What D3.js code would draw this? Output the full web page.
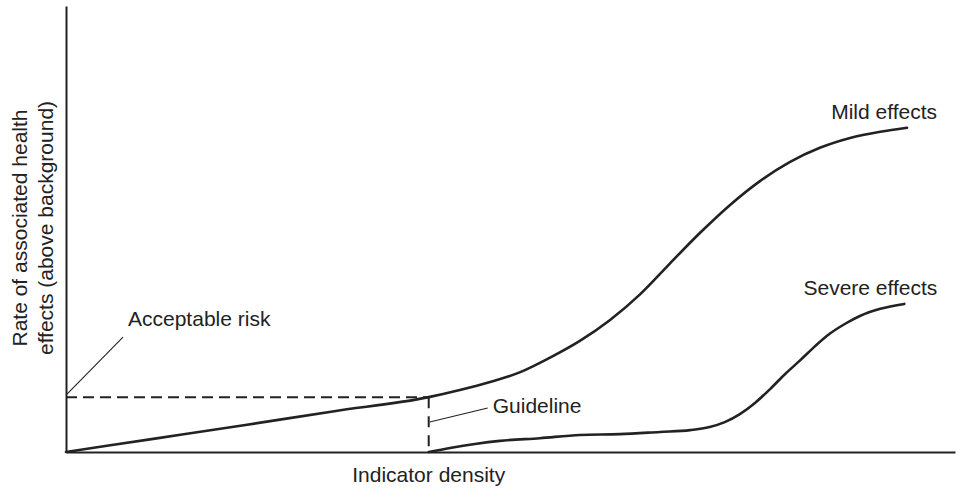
<!DOCTYPE html>
<html>
<head>
<meta charset="utf-8">
<script src="https://cdn.jsdelivr.net/npm/d3@7"></script>
<style>
  html, body { margin: 0; padding: 0; background: #fff; }
  svg { display: block; }
  text { font-family: "Liberation Sans", Arial, sans-serif; fill: #222; }
</style>
</head>
<body>
<svg id="chart" width="959" height="492"></svg>
<script>
// Dose–response schematic: indicator density vs. rate of health effects
const mildX = [0, 10, 20, 30, 40.8, 44.3, 47.7, 51.1, 54.4, 57.8, 61.2, 64.6, 67.9, 71.3, 74.7, 78.1, 81.4, 84.8, 88.2, 91.6, 94.6];
const mildY = [0, 3.0, 6.0, 9.1, 12.3, 13.9, 15.7, 17.9, 21.1, 24.9, 29.6, 35.4, 42.2, 49.1, 55.4, 60.8, 65.0, 68.2, 70.4, 71.8, 72.7];

const severeX = [40.8, 43.2, 46.0, 48.8, 53.3, 57.8, 62.3, 66.8, 70.2, 72.4, 74.1, 75.8, 77.5, 79.2, 80.9, 82.6, 84.3, 85.9, 87.6, 89.3, 91.6, 94.3];
const severeY = [0, 0.9, 1.8, 2.5, 3.1, 3.8, 4.0, 4.5, 4.9, 5.6, 6.7, 8.5, 11.0, 14.1, 17.5, 20.6, 23.8, 26.5, 28.7, 30.5, 32.1, 33.2];

const guidelineX = 40.8;      // indicator density at the guideline
const acceptableRiskY = 12.3; // tolerable rate of effects

const labels = {
  xTitle: "Indicator density",
  yTitle: ["Rate of associated health", "effects (above background)"],
  mild: "Mild effects",
  severe: "Severe effects",
  risk: "Acceptable risk",
  guideline: "Guideline"
};

const svg = d3.select("#chart");
const ink = "#222";
const fontSize = 21;

const x = d3.scaleLinear().domain([0, 100]).range([66, 955]);
const y = d3.scaleLinear().domain([0, 100]).range([452, 6]);

// Axes without ticks: just the two domain lines
const xAxis = svg.append("g")
  .attr("transform", `translate(0,${y(0)})`)
  .call(d3.axisBottom(x).tickValues([]).tickSizeOuter(0));
const yAxis = svg.append("g")
  .attr("transform", `translate(${x(0)},0)`)
  .call(d3.axisLeft(y).tickValues([]).tickSizeOuter(0));
[xAxis, yAxis].forEach(g => g.select(".domain").attr("stroke", ink).attr("stroke-width", 2));

// Dashed reference lines for acceptable risk and guideline
svg.append("line")
  .attr("x1", x(0)).attr("x2", x(guidelineX))
  .attr("y1", y(acceptableRiskY)).attr("y2", y(acceptableRiskY))
  .attr("stroke", ink).attr("stroke-width", 2)
  .attr("stroke-dasharray", "11,6");
svg.append("line")
  .attr("x1", x(guidelineX)).attr("x2", x(guidelineX))
  .attr("y1", y(acceptableRiskY)).attr("y2", y(0))
  .attr("stroke", ink).attr("stroke-width", 2)
  .attr("stroke-dasharray", "11,8");

// Response curves
const line = d3.line()
  .x(d => x(d[0]))
  .y(d => y(d[1]))
  .curve(d3.curveMonotoneX);

const mild = mildX.map((v, i) => [v, mildY[i]]);
const severe = severeX.map((v, i) => [v, severeY[i]]);

svg.append("path").datum(mild)
  .attr("d", line).attr("fill", "none")
  .attr("stroke", ink).attr("stroke-width", 2.6).attr("stroke-linecap", "round");
svg.append("path").datum(severe)
  .attr("d", line).attr("fill", "none")
  .attr("stroke", ink).attr("stroke-width", 2.6).attr("stroke-linecap", "round");

// Curve labels, placed off each curve's end
const mEnd = mild[mild.length - 1];
svg.append("text")
  .attr("x", x(mEnd[0]) + 30).attr("y", y(mEnd[1]) - 9)
  .attr("text-anchor", "end").attr("font-size", fontSize)
  .text(labels.mild);
const sEnd = severe[severe.length - 1];
svg.append("text")
  .attr("x", x(sEnd[0]) + 33).attr("y", y(sEnd[1]) - 9)
  .attr("text-anchor", "end").attr("font-size", fontSize)
  .text(labels.severe);

// Acceptable risk callout
const rx = x(0), ry = y(acceptableRiskY);
svg.append("line")
  .attr("x1", rx + 1).attr("y1", ry - 3)
  .attr("x2", rx + 57).attr("y2", ry - 60)
  .attr("stroke", ink).attr("stroke-width", 1.1);
svg.append("text")
  .attr("x", rx + 62).attr("y", ry - 71)
  .attr("font-size", fontSize)
  .text(labels.risk);

// Guideline callout
const gx = x(guidelineX), gy = y(0);
svg.append("line")
  .attr("x1", gx + 1).attr("y1", gy - 30)
  .attr("x2", gx + 59).attr("y2", gy - 44)
  .attr("stroke", ink).attr("stroke-width", 1.1);
svg.append("text")
  .attr("x", gx + 64).attr("y", gy - 39)
  .attr("font-size", fontSize)
  .text(labels.guideline);

// Axis titles
svg.append("text")
  .attr("x", x(guidelineX)).attr("y", 482)
  .attr("text-anchor", "middle").attr("font-size", fontSize)
  .text(labels.xTitle);

const yTitle = svg.append("text")
  .attr("transform", "translate(27,228) rotate(-90)")
  .attr("text-anchor", "middle").attr("font-size", fontSize);
yTitle.selectAll("tspan").data(labels.yTitle).join("tspan")
  .attr("x", 0).attr("dy", (d, i) => i === 0 ? 0 : 26)
  .text(d => d);
</script>
</body>
</html>
